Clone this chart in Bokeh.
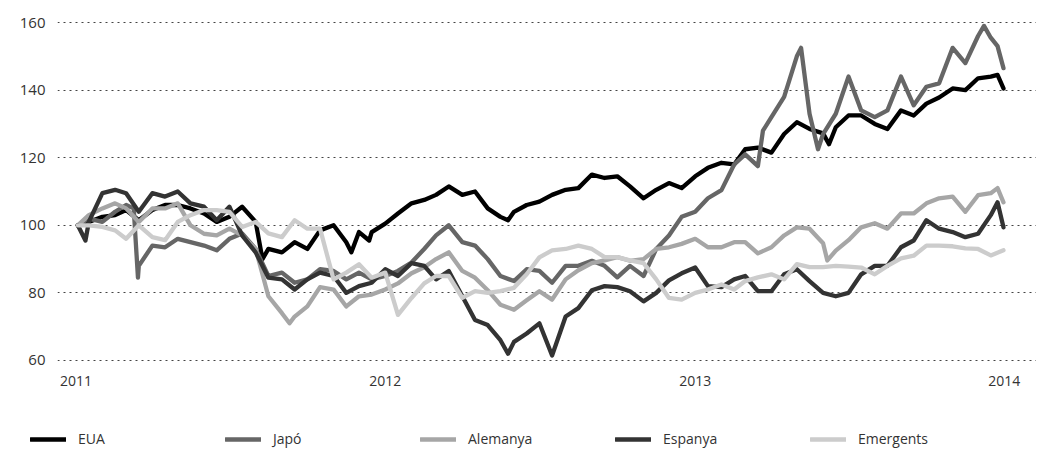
from datetime import date, datetime
from bokeh.plotting import figure
from bokeh.layouts import column, row
from bokeh.models import Range1d, FixedTicker, Legend, LegendItem, ColumnDataSource
from bokeh.embed import file_html
from bokeh.resources import INLINE

# ---- data (index, start = 100) ----
# semi-monthly sampling dates (1st and 16th of each month), 2011-01-03 .. 2013-12-31
dates = [date(2011 + k // 24, (k % 24) // 2 + 1, 1 if k % 2 == 0 else 16) for k in range(72)]
dates[0] = date(2011, 1, 3)
dates.append(date(2013, 12, 31))

eua = [100, 101, 102.5, 103, 104.5, 101.5, 104.5, 106, 106, 105, 103.5, 101, 102.5, 105.5, 101, 93,
       92, 95, 93, 98.5, 100, 95, 98, 98, 100.5, 103.5, 106.5, 107.5, 109, 111.5, 109, 110,
       105, 102.5, 104, 106, 107, 109, 110.5, 111, 115, 114, 114.5, 111.5, 108, 110.5, 112.5, 111,
       114.5, 117, 118.5, 118, 122.5, 123, 121.5, 127, 130.5, 128.5, 127.2, 129, 132.5, 132.5, 130, 128.5,
       134, 132.5, 136, 137.8, 140.5, 140, 143.5, 144, 140.5]
eua_extra = {date(2011, 8, 9): 90, date(2011, 11, 22): 92, date(2011, 12, 13): 95.5,
             date(2012, 5, 25): 101.5, date(2013, 6, 8): 124, date(2013, 12, 24): 144.5}

japo = [100, 102, 101, 104, 106, 88, 94, 93.5, 96, 95, 94, 92.6, 96, 97.6, 93, 85,
        86, 83, 84, 87, 86.5, 84, 86, 84, 85, 86.5, 89, 93, 97, 100, 95, 94,
        90, 85, 83.5, 87, 86.5, 83, 88, 88, 89.5, 88, 84.6, 88, 85, 93, 97, 102.5,
        104, 108, 110.4, 118, 121, 117.5, 132, 138, 150, 133, 127, 133, 144, 134, 132, 134,
        144, 135.5, 141, 142, 152.5, 148, 156, 155.5, 146.5]
japo_extra = {date(2011, 3, 10): 105, date(2011, 3, 15): 84.5, date(2013, 3, 22): 128,
              date(2013, 5, 6): 152.5, date(2013, 5, 26): 122.5, date(2013, 12, 8): 159,
              date(2013, 12, 24): 153}

alemanya = [100, 103, 105, 106.5, 105, 101, 105, 105, 106.5, 100, 97.5, 97, 99, 97, 93, 79,
            74, 73, 76, 81.7, 81, 76, 79, 79.5, 81, 82.8, 85.8, 87.6, 90, 92, 86.5, 84.5,
            80.8, 76.5, 75, 77.8, 80.5, 78, 84, 86.7, 88.8, 89.6, 90.6, 89.5, 90, 93, 93.5, 94.5,
            96, 93.5, 93.5, 95, 95, 91.7, 93.5, 97, 99.4, 99, 94.7, 92.5, 95.6, 99.4, 100.6, 99,
            103.5, 103.5, 106.5, 108, 108.5, 104, 108.9, 109.5, 106.8]
alemanya_extra = {date(2011, 9, 10): 71, date(2013, 6, 6): 89.6, date(2013, 12, 24): 111}

espanya = [100, 101, 109.5, 110.5, 109.5, 104, 109.5, 108.5, 110, 106.5, 105.5, 101.5, 105.5, 97, 92, 84.5,
           84, 81, 84, 86, 85, 80, 82, 83, 87, 85, 88.8, 88, 84, 86.5, 79, 72,
           70.5, 66, 65.5, 68, 71, 61.5, 73, 75.5, 80.8, 82, 81.7, 80.5, 77.5, 80, 83.7, 85.8,
           87.5, 82, 81.7, 84, 85, 80.5, 80.5, 85.5, 87, 83.5, 80, 79, 80, 85.5, 88, 88,
           93.5, 95.5, 101.5, 99, 98, 96.5, 97.5, 103, 99.4]
espanya_extra = {date(2011, 1, 12): 95.5, date(2012, 5, 25): 62, date(2013, 12, 24): 106.8}

emergents = [100, 100, 99.5, 98.5, 96, 100, 96.5, 95.6, 101, 103, 104.5, 104.5, 104, 99.5, 101, 97.6,
             96.5, 101.5, 99, 99, 84, 86, 88.5, 84.5, 86, 73.5, 78.5, 82.8, 85, 85, 78.5, 80.5,
             80, 80.5, 81.5, 85.5, 90.5, 92.6, 93, 94, 93, 90.6, 90.6, 89.6, 88.8, 84, 78.5, 78,
             80, 81, 82.5, 81, 83.5, 84.6, 85.5, 84, 88.5, 87.6, 87.6, 88, 87.8, 87.5, 85.5, 88,
             90.2, 91, 94, 94, 93.8, 93.2, 93, 91.1, 92.6]
emergents_extra = {}

names = ["EUA", "Japó", "Alemanya", "Espanya", "Emergents"]
colors = ["#000000", "#666666", "#a6a6a6", "#333333", "#cccccc"]
series = [(eua, eua_extra), (japo, japo_extra), (alemanya, alemanya_extra),
          (espanya, espanya_extra), (emergents, emergents_extra)]

year_ticks = [2011, 2012, 2013, 2014]
y_ticks = [60, 80, 100, 120, 140, 160]

FONT = "Open Sans"
LW = 4.3


def ms(d):
    return (datetime(d.year, d.month, d.day) - datetime(1970, 1, 1)).total_seconds() * 1000.0


p = figure(width=1036, height=400, x_axis_type="datetime", output_backend="svg",
           toolbar_location=None, min_border_left=57, min_border_right=0,
           min_border_top=12, min_border_bottom=30,
           x_range=Range1d(ms(date(2010, 12, 10)), ms(date(2014, 2, 8))),
           y_range=Range1d(57.04, 162.96))
p.outline_line_color = None
p.background_fill_color = "white"
p.border_fill_color = "white"

for name, col, (vals, extra) in zip(names, colors, series):
    pts = sorted(list(zip(dates, vals)) + list(extra.items()))
    src = ColumnDataSource(dict(x=[ms(d) for d, _ in pts], y=[v for _, v in pts]))
    p.line("x", "y", source=src, line_color=col, line_width=LW,
           line_join="round", line_cap="round")

# axes
xt = [ms(date(y, 1, 1)) for y in year_ticks]
p.xaxis.ticker = FixedTicker(ticks=xt)
p.xaxis.major_label_overrides = {t: str(y) for t, y in zip(xt, year_ticks)}
p.yaxis.ticker = FixedTicker(ticks=y_ticks)
for ax in (p.xaxis, p.yaxis):
    ax.axis_line_color = None
    ax.major_tick_line_color = None
    ax.minor_tick_line_color = None
    ax.major_tick_out = 0
    ax.major_tick_in = 0
    ax.major_label_text_font = FONT
    ax.major_label_text_color = "#333333"
p.xaxis.major_label_text_font_size = "14px"
p.xaxis.major_label_standoff = 5
p.yaxis.major_label_text_font_size = "15px"
p.yaxis.major_label_standoff = 12

p.xgrid.grid_line_color = None
p.ygrid.ticker = FixedTicker(ticks=y_ticks)
p.ygrid.grid_line_color = "#444444"
p.ygrid.grid_line_dash = "2 4"
p.ygrid.grid_line_width = 1

# legend in its own strip below the chart (dummy off-view lines carry the styles)
lg = figure(width=1036, height=56, output_backend="svg", toolbar_location=None,
            x_axis_location=None, y_axis_location=None,
            min_border_left=0, min_border_right=0, min_border_top=0, min_border_bottom=0,
            x_range=Range1d(0, 1), y_range=Range1d(0, 1))
lg.grid.visible = False
lg.outline_line_color = None
items = []
for name, col in zip(names, colors):
    r = lg.line([5, 6], [5, 6], line_color=col, line_width=LW, line_cap="round")
    items.append(LegendItem(label=name, renderers=[r]))
legend = Legend(items=items, orientation="horizontal", location=(30, 8),
                glyph_width=36, glyph_height=16, label_height=16, label_width=135,
                label_standoff=12, spacing=12, padding=0, margin=0,
                border_line_color=None, background_fill_alpha=0,
                label_text_font=FONT, label_text_font_size="14px",
                label_text_color="#333333", label_text_align="left")
lg.add_layout(legend, "center")

layout = column(p, row(lg, spacing=0), spacing=0)
open("out.html", "w").write(file_html(layout, INLINE))
